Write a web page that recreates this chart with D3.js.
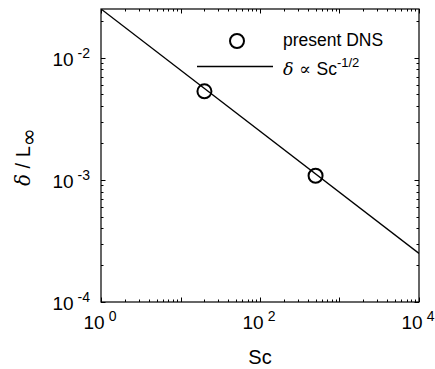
<!DOCTYPE html>
<html>
<head>
<meta charset="utf-8">
<script src="https://cdn.jsdelivr.net/npm/d3@7"></script>
<style>
  body { margin: 0; background: #fff; }
  svg { display: block; font-family: "Liberation Sans", Arial, sans-serif; }
</style>
</head>
<body>
<svg id="chart" width="435" height="369"></svg>
<script>
// data
const scDns = [20, 500];
const deltaDns = [0.0053, 0.00108];
const scFit = [1, 10000];
const deltaFit = [0.025, 0.00025];
const xTickLabels = [[1, '0'], [100, '2'], [10000, '4']];
const yTickLabels = [[1e-4, '-4'], [1e-3, '-3'], [1e-2, '-2']];

let margin = {left: 101, top: 9, right: 16, bottom: 67};
let width = 435 - margin.left - margin.right;
let height = 369 - margin.top - margin.bottom;

let svg = d3.select('#chart');
let g = svg.append('g').attr('transform', `translate(${margin.left},${margin.top})`);

let x = d3.scaleLog().domain([1, 1e4]).range([0, width]);
let y = d3.scaleLog().domain([1e-4, 0.025]).range([height, 0]);

g.append('clipPath').attr('id', 'clip')
  .append('rect').attr('width', width).attr('height', height);

// minor/major ticks on all four sides, pointing inward
let xTicks = x.ticks();
let yTicks = y.ticks();
let isMajor = v => Math.abs(Math.log10(v) - Math.round(Math.log10(v))) < 1e-9;

let tickG = g.append('g').attr('stroke', '#000').attr('stroke-width', 1);
xTicks.forEach(v => {
  let len = isMajor(v) ? 4.5 : 2.5;
  let px = Math.round(x(v)) + 0.5;
  tickG.append('line').attr('x1', px).attr('x2', px).attr('y1', height).attr('y2', height - len);
  tickG.append('line').attr('x1', px).attr('x2', px).attr('y1', 0).attr('y2', len);
});
yTicks.forEach(v => {
  let len = isMajor(v) ? 4.5 : 2.5;
  let py = Math.round(y(v)) + 0.5;
  tickG.append('line').attr('x1', 0).attr('x2', len).attr('y1', py).attr('y2', py);
  tickG.append('line').attr('x1', width).attr('x2', width - len).attr('y1', py).attr('y2', py);
});

// frame
g.append('rect').attr('width', width).attr('height', height)
  .attr('fill', 'none').attr('stroke', '#000').attr('stroke-width', 1.2);

// tick labels
xTickLabels.forEach(([v, e]) => {
  let t = g.append('text').attr('x', x(v) - 1).attr('y', height + 27)
    .attr('text-anchor', 'middle').attr('font-size', 19);
  t.append('tspan').text('10');
  t.append('tspan').attr('dx', 4).attr('dy', -8).attr('font-size', 14).text(e);
});
yTickLabels.forEach(([v, e]) => {
  let t = g.append('text').attr('x', -11).attr('y', y(v) + 8)
    .attr('text-anchor', 'end').attr('font-size', 19);
  t.append('tspan').text('10');
  t.append('tspan').attr('dx', 4).attr('dy', -8).attr('font-size', 14).text(e);
});

// axis titles (x title sits at the very bottom edge, as in the original)
g.append('text').attr('x', width / 2).attr('y', height + 62)
  .attr('text-anchor', 'middle').attr('font-size', 20).text('Sc');

let yl = g.append('text')
  .attr('transform', `translate(${-71},${148}) rotate(-90)`)
  .attr('text-anchor', 'middle').attr('font-size', 20);
yl.append('tspan').attr('font-family', 'DejaVu Serif').attr('font-style', 'italic').text('δ');
yl.append('tspan').text(' / L');
yl.append('tspan').attr('dy', 6).attr('font-size', 22).attr('font-family', 'DejaVu Sans').text('∞');

// fit line
let line = d3.line().x(d => x(d[0])).y(d => y(d[1]));
g.append('path').datum(d3.zip(scFit, deltaFit))
  .attr('clip-path', 'url(#clip)')
  .attr('d', line).attr('fill', 'none').attr('stroke', '#000').attr('stroke-width', 1.3);

// DNS points
g.selectAll('circle.dns').data(d3.zip(scDns, deltaDns)).enter()
  .append('circle').attr('class', 'dns')
  .attr('cx', d => x(d[0])).attr('cy', d => y(d[1])).attr('r', 7)
  .attr('fill', 'none').attr('stroke', '#000').attr('stroke-width', 2);

// legend
let lg = svg.append('g');
lg.append('circle').attr('cx', 237).attr('cy', 41).attr('r', 7)
  .attr('fill', 'none').attr('stroke', '#000').attr('stroke-width', 2);
lg.append('text').attr('x', 283).attr('y', 46).attr('font-size', 17.5).text('present DNS');
lg.append('line').attr('x1', 197).attr('x2', 273).attr('y1', 66.5).attr('y2', 66.5)
  .attr('stroke', '#000').attr('stroke-width', 1.3);
let lt = lg.append('text').attr('x', 283).attr('y', 75).attr('font-size', 17.5);
lt.append('tspan').attr('font-family', 'DejaVu Serif').attr('font-style', 'italic').text('δ');
lt.append('tspan').attr('font-family', 'DejaVu Serif').text(' ∝ ');
lt.append('tspan').text('Sc');
lt.append('tspan').attr('dy', -8).attr('font-size', 13).text('-1/2');
</script>
</body>
</html>
